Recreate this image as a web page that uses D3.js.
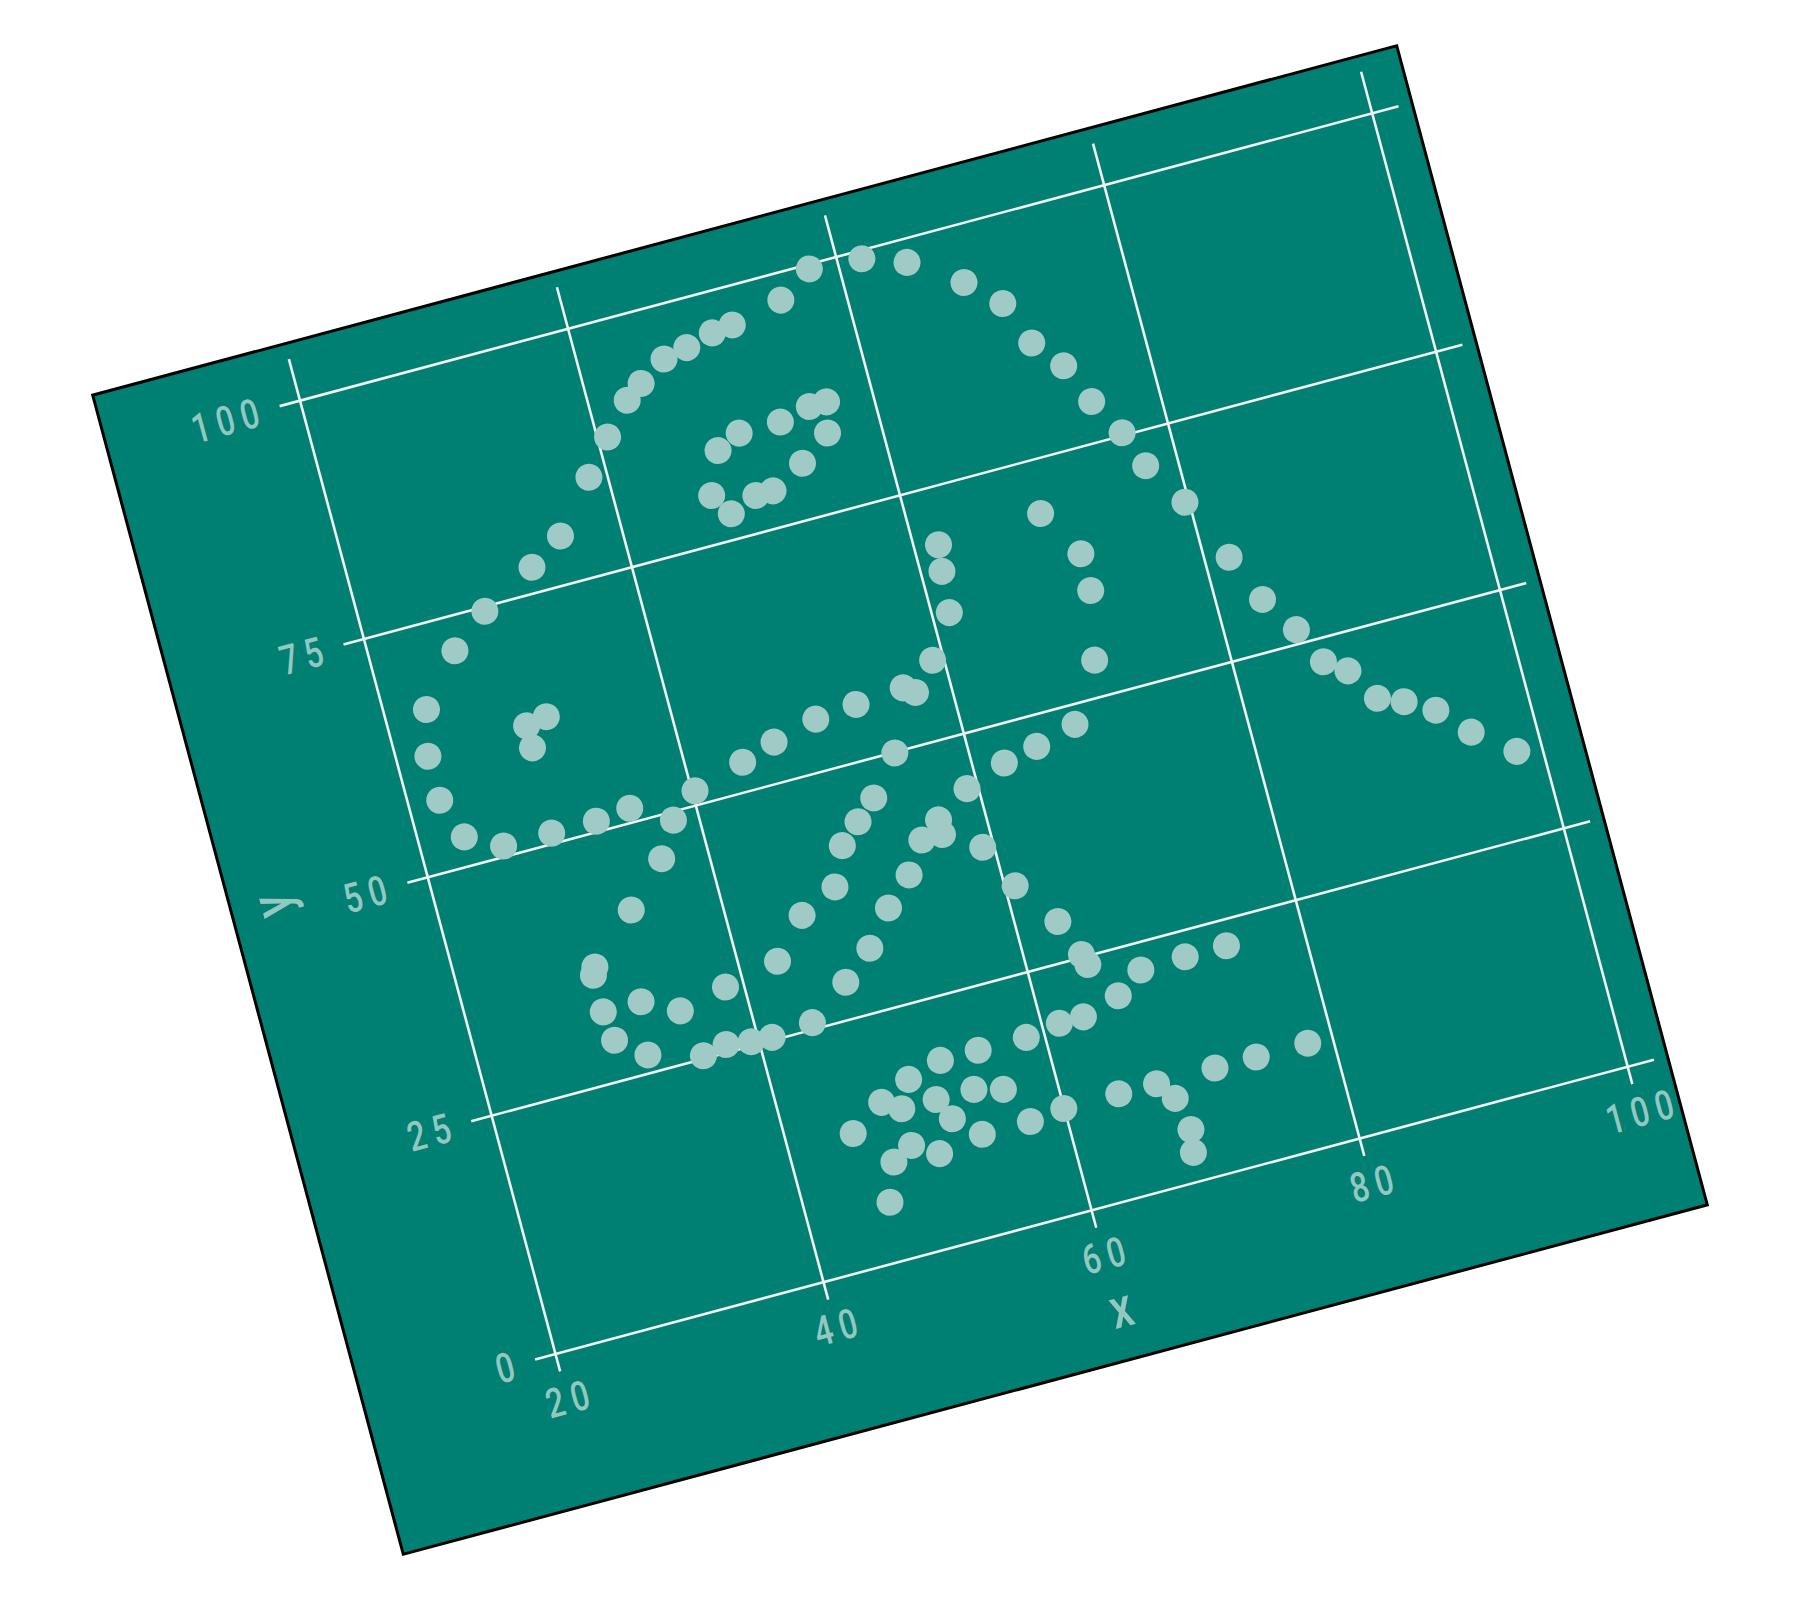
<!DOCTYPE html>
<html>
<head>
<meta charset="utf-8">
<script src="https://cdn.jsdelivr.net/npm/d3@7"></script>
<style>
  html, body { margin: 0; padding: 0; background: #ffffff; }
  svg { display: block; }
</style>
</head>
<body>
<svg id="chart" width="1800" height="1600"></svg>
<script>
// ---- data (Datasaurus "dino") ----
const dinoX = [55.3846,51.5385,46.1538,42.8205,40.7692,38.7179,35.641,33.0769,28.9744,26.1538,23.0769,22.3077,22.3077,23.3333,25.8974,29.4872,32.8205,35.3846,40.2564,44.1026,46.6667,50.0,53.0769,56.6667,59.2308,61.2821,61.5385,61.7949,57.4359,54.8718,52.5641,48.2051,49.4872,51.0256,45.3846,42.8205,38.7179,35.1282,32.5641,30.0,33.5897,36.6667,38.2051,29.7436,29.7436,30.0,32.0513,35.8974,41.0256,44.1026,47.1795,49.4872,51.5385,53.5897,55.1282,56.6667,59.2308,62.3077,64.8718,67.9487,70.5128,71.5385,71.5385,69.4872,46.9231,48.2051,50.0,53.0769,55.3846,56.6667,56.1538,53.8462,51.2821,50.0,47.9487,29.7436,29.7436,31.2821,57.9487,61.7949,64.8718,68.4615,70.7692,72.0513,73.8462,75.1282,76.6667,77.6923,79.7436,81.7949,83.3333,85.1282,86.4103,87.9487,89.4872,93.3333,95.3846,98.2051,56.6667,59.2308,60.7692,63.0769,64.1026,64.359,74.359,71.2821,67.9487,65.8974,63.0769,61.2821,58.7179,55.1282,52.3077,49.7436,47.4359,44.8718,48.7179,51.2821,54.1026,56.1538,52.0513,48.7179,47.1795,46.1538,50.5128,53.8462,57.4359,60.0,64.1026,66.9231,71.2821,74.359,78.2051,67.9487,68.4615,68.2051,37.6923,39.4872,91.2821,50.0,47.9487,44.1026];
const dinoY = [97.1795,96.0256,94.4872,91.4103,88.3333,84.8718,79.8718,77.5641,74.4872,71.4103,66.4103,61.7949,57.1795,52.9487,51.0256,51.0256,51.0256,51.4103,51.4103,52.9487,54.1026,55.2564,55.641,56.0256,57.9487,62.1795,66.4103,69.1026,55.2564,49.8718,46.0256,38.3333,42.1795,44.1026,36.4103,32.5641,31.4103,30.2564,32.1795,36.7949,41.4103,45.641,49.1026,36.0256,32.1795,29.1026,26.7949,25.2564,25.2564,25.641,28.718,31.4103,34.8718,37.5641,40.641,42.1795,44.4872,46.0256,46.7949,47.9487,53.718,60.641,64.4872,69.4872,79.8718,84.1026,85.2564,85.2564,86.0256,86.0256,82.9487,80.641,78.718,78.718,77.5641,59.8718,62.1795,62.5641,99.4872,99.1026,97.5641,94.1026,91.0256,86.4103,83.3333,79.1026,75.2564,71.4103,66.7949,60.2564,55.2564,51.4103,47.5641,46.0256,42.5641,39.8718,36.7949,33.718,40.641,38.3333,33.718,29.1026,25.2564,24.1026,22.3077,22.3077,22.1795,20.2564,19.1026,19.1026,18.5897,18.5897,18.5897,17.5641,16.0256,13.7179,14.8718,14.8718,14.8718,14.1026,12.5641,11.0256,9.8718,6.0256,9.4872,10.2564,10.2564,10.641,10.641,10.641,10.641,10.641,10.641,8.718,5.2564,2.9487,25.7692,25.3846,41.5385,95.7692,95.0,92.6923];
const xTicks = [20, 40, 60, 80, 100];
const yTicks = [0, 25, 50, 75, 100];
const xTitle = "x";
const yTitle = "y";

// ---- layout ----
const W = 1350, H = 1200;
const panelLeft = 177.7, panelRight = 1336.1, panelTop = 15.9, panelBottom = 1064.0;
const bg = "#007f73", gridColor = "#f2f2f2", dotColor = "#9fcac5", textColor = "#94c7c0";
const sx = 0.78, ls = 9;
const fontFam = "Roboto, 'DejaVu Sans', sans-serif";

const svg = d3.select("#chart");
const g = svg.append("g")
  .attr("transform", `translate(900,800) rotate(-15) translate(${-W/2},${-H/2})`);

g.append("rect").attr("x", 0).attr("y", 0).attr("width", W).attr("height", H)
  .attr("fill", bg).attr("stroke", "#000").attr("stroke-width", 3);

function expand(ext) { const p = (ext[1] - ext[0]) * 0.05; return [ext[0] - p, ext[1] + p]; }
const x = d3.scaleLinear().domain(expand(d3.extent(dinoX))).range([panelLeft, panelRight]);
const y = d3.scaleLinear().domain(expand(d3.extent(dinoY))).range([panelBottom, panelTop]);

const pw = panelRight - panelLeft, ph = panelBottom - panelTop;

// x axis (grid + labels)
const gx = g.append("g").attr("transform", `translate(0,${panelTop})`)
  .call(d3.axisBottom(x).tickValues(xTicks).tickSize(ph).tickPadding(14).tickFormat(d3.format("d")));
gx.select(".domain").remove();
gx.selectAll(".tick line").attr("stroke", gridColor).attr("stroke-width", 2.6);
gx.selectAll(".tick text")
  .attr("fill", textColor).attr("font-family", fontFam).attr("font-size", 41).attr("font-weight", 500)
  .attr("letter-spacing", ls).attr("dx", ls / 2)
  .attr("transform", `scale(${sx},1)`);

// y axis (grid + labels)
const gy = g.append("g").attr("transform", `translate(${panelRight},0)`)
  .call(d3.axisLeft(y).tickValues(yTicks).tickSize(pw).tickPadding(22).tickFormat(d3.format("d")));
gy.select(".domain").remove();
gy.selectAll(".tick line").attr("stroke", gridColor).attr("stroke-width", 2.6);
gy.selectAll(".tick text")
  .attr("fill", textColor).attr("font-family", fontFam).attr("font-size", 41).attr("font-weight", 500)
  .attr("letter-spacing", ls)
  .attr("x", -(pw + 22) / sx).attr("dx", ls).attr("dy", "0.355em")
  .attr("transform", `scale(${sx},1)`);

// titles
g.append("text").text(xTitle)
  .attr("transform", `translate(${(panelLeft + panelRight) / 2},1167) scale(${sx},1)`)
  .attr("text-anchor", "middle").attr("fill", textColor).attr("font-weight", 500)
  .attr("font-family", fontFam).attr("font-size", 56);
g.append("text").text(yTitle)
  .attr("transform", `translate(60,${(panelTop + panelBottom) / 2}) rotate(-90) scale(${sx},1)`)
  .attr("text-anchor", "middle").attr("fill", textColor).attr("font-weight", 500)
  .attr("font-family", fontFam).attr("font-size", 56);

// points
g.append("g").selectAll("circle")
  .data(dinoX.map((d, i) => ({ x: d, y: dinoY[i] })))
  .join("circle")
  .attr("cx", d => x(d.x)).attr("cy", d => y(d.y))
  .attr("r", 13.5).attr("fill", dotColor);
</script>
</body>
</html>
